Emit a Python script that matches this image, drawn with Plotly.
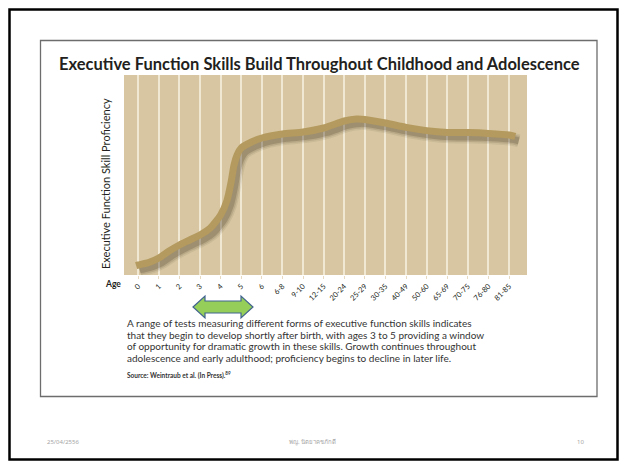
import plotly.graph_objects as go

# ---- data ----
age_labels = ["0", "1", "2", "3", "4", "5", "6", "6-8", "9-10", "12-15", "20-24",
              "25-29", "30-35", "40-49", "50-60", "65-69", "70-75", "76-80", "81-85"]
# curve samples: position along the age axis (category index) and proficiency (0-100)
curve_pos = [-0.1, 0, 0.5, 1, 1.5, 2, 2.5, 3, 3.5, 4, 4.3, 4.5, 4.65, 4.8, 5, 5.5, 6,
             7, 8, 9, 10, 10.6, 11, 12, 13, 14, 15, 16, 17, 18, 18.3]
curve_val = [4.7, 5, 6.2, 8.5, 12, 15, 17.5, 20, 23.5, 30, 37, 46, 55, 60, 63.5, 66.5, 68.5,
             70.5, 71.5, 73.5, 77, 78, 77.8, 76, 73.8, 72.2, 71.3, 71.2, 70.8, 70, 69.3]

title_text = "Executive Function Skills Build Throughout Childhood and Adolescence"
ytitle_text = "Executive Function Skill Proficiency"
body_lines = [
    "A range of tests measuring different forms of executive function skills indicates",
    "that they begin to develop shortly after birth, with ages 3 to 5 providing a window",
    "of opportunity for dramatic growth in these skills. Growth continues throughout",
    "adolescence and early adulthood; proficiency begins to decline in later life.",
]
source_text = "Source: Weintraub et al. (In Press).<sup>89</sup>"
footer_left = "25/04/2556"
footer_mid = "พญ. นิตยาคชภักดี"
footer_right = "10"

# ---- layout geometry (pixels) ----
W, H = 619, 462
PL, PR, PT, PB = 124, 527, 75, 275


def px(x):
    return (x - PL) / (PR - PL)


def py(y):
    return (PB - y) / (PB - PT)


fig = go.Figure()

# shadow (simulated blur)
sx = [p + 0.17 for p in curve_pos]
sy = [v - 2.2 for v in curve_val]
for w, a in [(13, 0.08), (10, 0.12), (7, 0.2)]:
    fig.add_trace(go.Scatter(x=sx, y=sy, mode="lines",
                             line=dict(color=f"rgba(55,45,25,{a})", width=w, shape="spline", smoothing=0.6),
                             hoverinfo="skip", showlegend=False))
# main curve
fig.add_trace(go.Scatter(x=curve_pos, y=curve_val, mode="lines",
                         line=dict(color="#b49a5e", width=7, shape="spline", smoothing=0.6),
                         showlegend=False))

shapes = []
# outer slide frame
shapes.append(dict(type="rect", xref="paper", yref="paper", x0=px(9.5), x1=px(617.5), y0=py(9.5), y1=py(459.5),
                   line=dict(color="#000000", width=2.5), layer="above"))
# inner box
shapes.append(dict(type="rect", xref="paper", yref="paper", x0=px(40.5), x1=px(597), y0=py(40.5), y1=py(396.5),
                   line=dict(color="#6d6d6d", width=1.3), layer="above"))
# green double arrow
pts = [(193, 307), (205, 296), (205, 301), (241, 301), (241, 296), (253, 307),
       (241, 318), (241, 313), (205, 313), (205, 318)]
path = "M " + " L ".join(f"{px(x):.5f},{py(y):.5f}" for x, y in pts) + " Z"
shapes.append(dict(type="path", xref="paper", yref="paper", path=path,
                   fillcolor="#95cf5a", line=dict(color="#41648f", width=1.2), layer="above"))

annotations = []
annotations.append(dict(text=f"<b>{title_text}</b>", xref="paper", yref="paper", x=px(319), y=py(64),
                        xanchor="center", yanchor="middle", showarrow=False,
                        font=dict(family="Lato", size=16.5, color="#231f20")))
annotations.append(dict(text=ytitle_text, xref="paper", yref="paper", x=px(105), y=py(184),
                        xanchor="center", yanchor="middle", textangle=-90, showarrow=False,
                        font=dict(family="Lato", size=11, color="#231f20")))
annotations.append(dict(text="<b>Age</b>", xref="paper", yref="paper", x=px(113), y=py(284),
                        xanchor="center", yanchor="middle", showarrow=False,
                        font=dict(family="Lato", size=8.5, color="#231f20")))
for i, line in enumerate(body_lines):
    annotations.append(dict(text=line, xref="paper", yref="paper", x=px(125), y=py(323 + i * 11.7),
                            xanchor="left", yanchor="middle", align="left", showarrow=False,
                            font=dict(family="Lato", size=10, color="#333333")))
annotations.append(dict(text=f"<b>{source_text}</b>", xref="paper", yref="paper", x=px(125), y=py(375),
                        xanchor="left", yanchor="middle", align="left", showarrow=False,
                        font=dict(family="Lato", size=6.5, color="#333333")))
for t, x in [(footer_left, 63), (footer_mid, 312), (footer_right, 580)]:
    annotations.append(dict(text=t, xref="paper", yref="paper", x=px(x), y=py(442),
                            xanchor="center", yanchor="middle", showarrow=False,
                            font=dict(family="Noto Sans, DejaVu Sans", size=6, color="#a6a6a6")))

fig.update_layout(
    width=W, height=H,
    margin=dict(l=PL, r=W - PR, t=PT, b=H - PB, pad=0),
    paper_bgcolor="white",
    plot_bgcolor="#d7c6a1",
    shapes=shapes,
    annotations=annotations,
    xaxis=dict(range=[-0.69, 18.87], tickmode="array", tickvals=list(range(len(age_labels))),
               ticktext=age_labels, tickangle=-45, showgrid=True, gridcolor="#f1e8d4", gridwidth=1.5,
               zeroline=False, showline=False, ticks="outside", ticklen=3, tickcolor="#e6dbc2",
               tickfont=dict(family="Lato", size=7.5, color="#231f20"), fixedrange=True),
    yaxis=dict(range=[0, 100], showgrid=False, zeroline=False, showticklabels=False, ticks="",
               showline=False, fixedrange=True),
)

fig.write_html("out.html")
